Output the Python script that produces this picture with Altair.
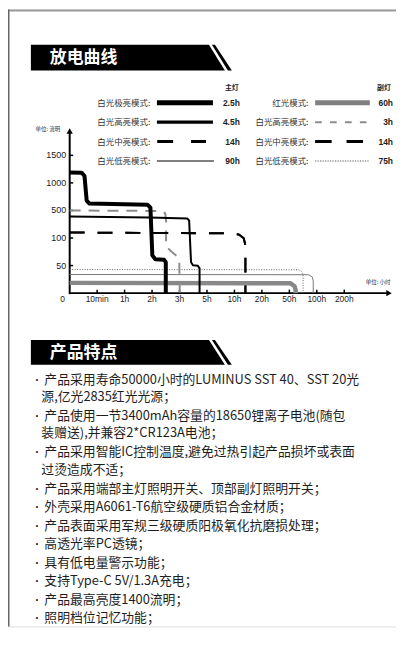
import altair as alt
import pandas as pd

# ---------------- data ----------------
x_tick_labels = ["0", "10min", "1h", "2h", "3h", "5h", "10h", "20h", "50h", "100h", "200h"]
x_tick_hours = [0, 1 / 6, 1, 2, 3, 5, 10, 20, 50, 100, 200]
y_tick_labels = ["0", "50", "100", "500", "1000", "1500"]
y_tick_lumens = [0, 50, 100, 500, 1000, 1500]

main_title = "主灯"
sub_title = "副灯"
main_modes = ["白光极亮模式:", "白光高亮模式:", "白光中亮模式:", "白光低亮模式:"]
main_runtime = ["2.5h", "4.5h", "14h", "90h"]
sub_modes = ["红光模式:", "白光高亮模式:", "白光中亮模式:", "白光低亮模式:"]
sub_runtime = ["60h", "3h", "14h", "75h"]

# discharge curves: hours / lumens
main_turbo_h = [0, 0.072, 0.09, 0.103, 0.12, 1.83, 1.94, 2.01, 2.12, 2.44, 2.5, 2.5]
main_turbo_lm = [1190, 1185, 1125, 680, 625, 605, 550, 68.5, 61.5, 60.5, 56, 0]
main_high_h = [0, 1.9, 3.56, 3.7, 3.84, 3.98, 4.34, 4.46, 4.46]
main_high_lm = [412, 396, 384, 356, 56, 50.5, 49.5, 45, 0]
main_mid_h = [0, 8.1, 11.6, 13.4, 14, 14]
main_mid_lm = [180, 168, 152, 99.5, 86.5, 0]
main_low_h = [0, 85, 92, 93.5, 93.5]
main_low_lm = [33.8, 33.4, 29, 21.5, 0]
sub_red_h = [0, 52, 59.5, 61.5, 61.5]
sub_red_lm = [18.6, 18, 12.5, 5.5, 0]
sub_high_h = [0, 2.37, 2.48, 2.51, 2.51, 2.66, 2.91, 2.99, 3.02]
sub_high_lm = [500, 492, 456, 356, 85, 77.5, 67, 59.5, 0]
sub_mid_h = [0, 8.1, 11.6, 13.4, 14, 14]
sub_mid_lm = [180, 168, 152, 99.5, 86.5, 0]
sub_low_h = [0, 66.5, 72, 75, 75]
sub_low_lm = [42.8, 42.4, 39.5, 32.5, 0]

section1 = "放电曲线"
section2 = "产品特点"
unit_y = "单位: 流明"
unit_x = "单位: 小时"

features = [
    ["产品采用寿命50000小时的LUMINUS SST 40、SST 20光", "源,亿光2835红光光源；"],
    ["产品使用一节3400mAh容量的18650锂离子电池(随包", "装赠送),并兼容2*CR123A电池；"],
    ["产品采用智能IC控制温度,避免过热引起产品损坏或表面", "过烫造成不适；"],
    ["产品采用端部主灯照明开关、顶部副灯照明开关；"],
    ["外壳采用A6061-T6航空级硬质铝合金材质；"],
    ["产品表面采用军规三级硬质阳极氧化抗磨损处理；"],
    ["高透光率PC透镜；"],
    ["具有低电量警示功能；"],
    ["支持Type-C 5V/1.3A充电；"],
    ["产品最高亮度1400流明；"],
    ["照明档位记忆功能；"],
]

# ---------------- layout ----------------
W, H = 390, 620
OFF = 8
CJK = "Noto Sans CJK SC"
LAT = "Liberation Sans"


def p(v):
    return v - OFF


X0, XSTEP = 70, 27.6
Y0, YSTEP = 293, 27.7
XS = alt.Scale(domain=x_tick_hours, range=[p(X0 + XSTEP * i) for i in range(len(x_tick_hours))],
               nice=False, zero=False)
YS = alt.Scale(domain=y_tick_lumens, range=[p(Y0 - YSTEP * i) for i in range(len(y_tick_lumens))],
               nice=False, zero=False)

one = pd.DataFrame({"a": [0]})
layers = []

# frame
layers.append(alt.Chart(one).mark_rule(color="#9a9a9a", strokeWidth=2).encode(
    x=alt.value(0), x2=alt.value(W), y=alt.value(1)))
layers.append(alt.Chart(one).mark_rule(color="#666666", strokeWidth=1.5).encode(
    x=alt.value(0.75), y=alt.value(0), y2=alt.value(H)))


# banners
def banner(top, bottom, title, text_y):
    body = pd.DataFrame({"y": [p(top), p(bottom)], "x": [p(31), p(31)], "x2": [p(210), p(226)]})
    stripe = pd.DataFrame({"y": [p(top), p(bottom)], "x": [p(213), p(229)], "x2": [p(216), p(233)]})
    out = []
    for d in (body, stripe):
        out.append(alt.Chart(d).mark_area(orient="horizontal", color="black").encode(
            y=alt.Y("y:Q", scale=None, axis=None),
            x=alt.X("x:Q", scale=None, axis=None),
            x2="x2:Q"))
    out.append(alt.Chart(pd.DataFrame({"t": [title]})).mark_text(
        font=CJK, fontSize=17, fontWeight="bold", color="white", align="left", baseline="middle").encode(
        x=alt.value(p(50)), y=alt.value(p(text_y)), text="t:N"))
    return out


layers += banner(43.3, 69.3, section1, 56.5)
layers += banner(340, 365, section2, 352.8)

# legend
ly = [p(v) for v in [101.7, 121.2, 140.7, 160.2]]
leg_main = pd.DataFrame({"mode": main_modes, "rt": main_runtime, "y": ly})
leg_sub = pd.DataFrame({"mode": sub_modes, "rt": sub_runtime, "y": ly})
ycol = alt.Y("y:Q", scale=None, axis=None)

layers.append(alt.Chart(pd.DataFrame({"t": [main_title]})).mark_text(
    font=CJK, fontSize=7, fontWeight="bold", color="#222", align="right", baseline="middle").encode(
    x=alt.value(p(240)), y=alt.value(p(87)), text="t:N"))
layers.append(alt.Chart(pd.DataFrame({"t": [sub_title]})).mark_text(
    font=CJK, fontSize=7, fontWeight="bold", color="#222", align="right", baseline="middle").encode(
    x=alt.value(p(393)), y=alt.value(p(87)), text="t:N"))
layers.append(alt.Chart(leg_main).mark_text(
    font=CJK, fontSize=8.5, color="#333", align="right", baseline="middle").encode(
    x=alt.value(p(151)), y=ycol, text="mode:N"))
layers.append(alt.Chart(leg_main).mark_text(
    font=LAT, fontSize=8.5, fontWeight="bold", color="#222", align="right", baseline="middle").encode(
    x=alt.value(p(241)), y=ycol, text="rt:N"))
layers.append(alt.Chart(leg_sub).mark_text(
    font=CJK, fontSize=8.5, color="#333", align="right", baseline="middle").encode(
    x=alt.value(p(310)), y=ycol, text="mode:N"))
layers.append(alt.Chart(leg_sub).mark_text(
    font=LAT, fontSize=8.5, fontWeight="bold", color="#222", align="right", baseline="middle").encode(
    x=alt.value(p(395)), y=ycol, text="rt:N"))

main_sty = [
    dict(color="black", strokeWidth=5, x1=157.7, x2=214),
    dict(color="black", strokeWidth=3.3, x1=157.7, x2=214),
    dict(color="black", strokeWidth=3, strokeDash=[16, 18], x1=158, x2=207),
    dict(color="black", strokeWidth=1.2, x1=157.7, x2=215),
]
sub_sty = [
    dict(color="#808080", strokeWidth=5, x1=316.7, x2=371.7),
    dict(color="#8c8c8c", strokeWidth=2, strokeDash=[6.7, 8.3], x1=316.7, x2=368.3),
    dict(color="black", strokeWidth=3, strokeDash=[16.6, 15], x1=316.7, x2=365),
    dict(color="#555555", strokeWidth=1, strokeDash=[1.2, 1.3], x1=316.7, x2=370.7),
]
for sty_list in (main_sty, sub_sty):
    for i, s in enumerate(sty_list):
        s = dict(s)
        a, b = s.pop("x1"), s.pop("x2")
        layers.append(alt.Chart(one).mark_rule(strokeCap="butt", **s).encode(
            x=alt.value(p(a)), x2=alt.value(p(b)), y=alt.value(ly[i])))

# axes
layers.append(alt.Chart(one).mark_rule(color="black", strokeWidth=2).encode(
    x=alt.value(p(70)), x2=alt.value(p(390)), y=alt.value(p(293))))
layers.append(alt.Chart(one).mark_rule(color="black", strokeWidth=2).encode(
    x=alt.value(p(70)), y=alt.value(p(294)), y2=alt.value(p(131))))
layers.append(alt.Chart(one).mark_point(shape="triangle-right", filled=True, size=40, color="black", opacity=1).encode(
    x=alt.value(p(391)), y=alt.value(p(293))))
layers.append(alt.Chart(one).mark_point(shape="triangle-up", filled=True, size=40, color="black", opacity=1).encode(
    x=alt.value(p(70)), y=alt.value(p(130))))

xt = pd.DataFrame({"h": x_tick_hours, "lab": x_tick_labels})
yt = pd.DataFrame({"lm": y_tick_lumens, "lab": y_tick_labels})
xcol = alt.X("h:Q", scale=XS, axis=None)
ycol2 = alt.Y("lm:Q", scale=YS, axis=None)

layers.append(alt.Chart(xt.iloc[1:]).mark_rule(color="black", strokeWidth=1.5).encode(
    x=xcol, y=alt.value(p(293)), y2=alt.value(p(289.5))))
layers.append(alt.Chart(yt.iloc[1:]).mark_rule(color="black", strokeWidth=1.5).encode(
    y=ycol2, x=alt.value(p(70)), x2=alt.value(p(73.5))))
layers.append(alt.Chart(xt.iloc[1:]).mark_text(
    font=LAT, fontSize=8.5, color="#222", align="center", baseline="middle").encode(
    x=xcol, y=alt.value(p(299)), text="lab:N"))
layers.append(alt.Chart(xt.iloc[:1]).mark_text(
    font=LAT, fontSize=8.5, color="#222", align="center", baseline="middle", dx=-7).encode(
    x=xcol, y=alt.value(p(299)), text="lab:N"))
layers.append(alt.Chart(yt.iloc[1:]).mark_text(
    font=LAT, fontSize=9, color="#222", align="right", baseline="middle").encode(
    y=ycol2, x=alt.value(p(66.5)), text="lab:N"))
layers.append(alt.Chart(pd.DataFrame({"t": [unit_y]})).mark_text(
    font=CJK, fontSize=5.5, color="#333", align="center", baseline="middle").encode(
    x=alt.value(p(48)), y=alt.value(p(128)), text="t:N"))
layers.append(alt.Chart(pd.DataFrame({"t": [unit_x]})).mark_text(
    font=CJK, fontSize=5.5, color="#333", align="center", baseline="middle").encode(
    x=alt.value(p(380)), y=alt.value(p(282)), text="t:N"))


# curves
def curve(h, lm, **kw):
    df = pd.DataFrame({"h": h, "lm": lm, "o": list(range(len(h)))})
    return alt.Chart(df).mark_line(strokeCap="butt", strokeJoin="round", **kw).encode(
        x=alt.X("h:Q", scale=XS, axis=None),
        y=alt.Y("lm:Q", scale=YS, axis=None),
        order="o:Q")


layers.append(curve(sub_red_h, sub_red_lm, color="#888888", strokeWidth=4.5))
layers.append(curve(main_low_h, main_low_lm, color="#777777", strokeWidth=1))
layers.append(curve(sub_low_h, sub_low_lm, color="#666666", strokeWidth=1, strokeDash=[1, 1.5]))
layers.append(curve(sub_high_h, sub_high_lm, color="#8c8c8c", strokeWidth=2, strokeDash=[11, 8]))
layers.append(curve(main_mid_h, main_mid_lm, color="black", strokeWidth=2, strokeDash=[15, 13]))
layers.append(curve(sub_mid_h, sub_mid_lm, color="black", strokeWidth=2, strokeDash=[15, 13]))
layers.append(curve(main_high_h, main_high_lm, color="black", strokeWidth=2))
layers.append(curve(main_turbo_h, main_turbo_lm, color="black", strokeWidth=4))

# features list
rows, bullets = [], []
y = 380.0
for k, item in enumerate(features):
    for j, line in enumerate(item):
        if j == 0:
            bullets.append({"x": p(37.5), "y": p(y), "t": "·"})
            rows.append({"x": p(44.5), "y": p(y), "t": line})
        else:
            rows.append({"x": p(41.5), "y": p(y), "t": line})
        if j < len(item) - 1:
            y += 17.4
    y += 19.2 if len(item) > 1 or (k + 1 < len(features) and len(features[k + 1]) > 1) else 18.6
feat = pd.DataFrame(rows)
bul = pd.DataFrame(bullets)
layers.append(alt.Chart(feat).mark_text(
    font=CJK, fontSize=12.9, color="#1e1e1e", align="left", baseline="middle").encode(
    x=alt.X("x:Q", scale=None, axis=None), y=alt.Y("y:Q", scale=None, axis=None), text="t:N"))
layers.append(alt.Chart(bul).mark_text(
    font=LAT, fontSize=12, fontWeight="bold", color="#1e1e1e", align="center", baseline="middle").encode(
    x=alt.X("x:Q", scale=None, axis=None), y=alt.Y("y:Q", scale=None, axis=None), text="t:N"))

chart = alt.layer(*layers).properties(
    width=W, height=H, padding=0, autosize=alt.AutoSizeParams(type="none")
).configure_view(stroke=None).configure(background="white")

chart.save("out.html", embed_options={"renderer": "svg", "actions": False})
